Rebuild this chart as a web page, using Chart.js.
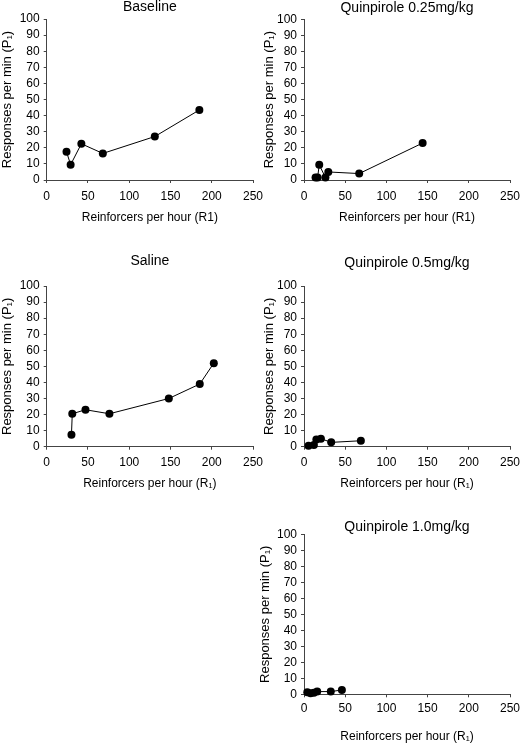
<!DOCTYPE html>
<html><head><meta charset="utf-8">
<script src="https://cdn.jsdelivr.net/npm/chart.js@4/dist/chart.umd.min.js"></script>
<style>
html,body{margin:0;padding:0;background:#fff;width:521px;height:745px;overflow:hidden;position:relative}
canvas{position:absolute;left:0;top:0}
</style></head><body>
<canvas id="c1" width="521" height="745"></canvas>
<canvas id="c2" width="521" height="745"></canvas>
<canvas id="c3" width="521" height="745"></canvas>
<canvas id="c4" width="521" height="745"></canvas>
<canvas id="c5" width="521" height="745"></canvas>
<script>
// ---- data ----
const xTickValues = [0, 50, 100, 150, 200, 250];
const yTickValues = [0, 10, 20, 30, 40, 50, 60, 70, 80, 90, 100];
const panelTitles = ['Baseline', 'Quinpirole 0.25mg/kg', 'Saline', 'Quinpirole 0.5mg/kg', 'Quinpirole 1.0mg/kg'];
const yAxisTitle = 'Responses per min (P\u2081)';
const xAxisTitles = ['Reinforcers per hour (R1)', 'Reinforcers per hour (R1)', 'Reinforcers per hour (R\u2081)', 'Reinforcers per hour (R\u2081)', 'Reinforcers per hour (R\u2081)'];

const baselineR = [24, 29, 42, 68, 131, 185];
const baselineP = [17.5, 9.5, 22.5, 16.5, 27, 43.5];

const q025R = [14, 16.5, 18.5, 26, 29.5, 67, 144];
const q025P = [1.5, 1.5, 9.5, 1.5, 5, 4, 23];

const salineR = [30, 31, 47, 76, 148, 185.5, 202.5];
const salineP = [7.5, 20.5, 23, 20.5, 30, 39, 52];

const q05R = [5.5, 12, 15, 20.5, 33, 69];
const q05P = [0.6, 1, 4.5, 5, 2.7, 3.7];

const q10R = [4, 8, 12, 16, 32.5, 46];
const q10P = [1.3, 0.6, 1, 1.7, 1.7, 2.7];

// ---- layout ----
const W = 521, H = 745;
const F = "'Liberation Sans', Arial, Helvetica, sans-serif";
const AX = '#444';
const geoms = [
  {left: 0, chartLeft: 46.7, chartRight: 253, titleTop: 0, chartTop: 19, chartBottom: 180, bottom: 230, xTitleCenter: 218, tickPad: 6},
  {left: 262, chartLeft: 304, chartRight: 510, titleTop: 1, chartTop: 19.3, chartBottom: 180, bottom: 230, xTitleCenter: 218, tickPad: 6},
  {left: 0, chartLeft: 46.7, chartRight: 253, titleTop: 254, chartTop: 286, chartBottom: 446.7, bottom: 497, xTitleCenter: 484, tickPad: 6},
  {left: 262, chartLeft: 304, chartRight: 510, titleTop: 256, chartTop: 286, chartBottom: 446.7, bottom: 497, xTitleCenter: 484, tickPad: 6},
  {left: 258.5, chartLeft: 304, chartRight: 510, titleTop: 520.3, chartTop: 534.3, chartBottom: 694.3, bottom: 745, xTitleCenter: 736.7, tickPad: 4}
];

function makeChart(id, title, xTitle, R, P, g) {
  const pts = R.map((r, k) => ({x: r, y: P[k]}));
  new Chart(document.getElementById(id), {
    type: 'scatter',
    data: {datasets: [{
      data: pts, showLine: true, borderColor: '#000', borderWidth: 1, tension: 0,
      pointRadius: 4, pointHoverRadius: 4, pointBackgroundColor: '#000',
      pointBorderColor: '#000', pointBorderWidth: 0, clip: false
    }]},
    options: {
      responsive: false, animation: false, devicePixelRatio: 1, events: [],
      layout: {padding: {left: g.left, top: g.titleTop, right: W - g.chartRight, bottom: H - g.bottom}},
      plugins: {
        legend: {display: false}, tooltip: {enabled: false},
        title: {display: true, text: title, color: '#000', fullSize: false,
          font: {family: F, size: 14, weight: 'normal', lineHeight: 1},
          padding: {top: 0, bottom: Math.max(0, g.chartTop - g.titleTop - 14)}}
      },
      scales: {
        x: {
          type: 'linear', min: 0, max: 250,
          afterBuildTicks: s => { s.ticks = xTickValues.map(v => ({value: v})); },
          afterFit: s => { s.height = g.bottom - g.chartBottom; s.paddingLeft = 0; s.paddingRight = 0; },
          grid: {display: true, drawOnChartArea: false, drawTicks: true, tickLength: 3, color: AX},
          border: {display: true, color: AX, width: 1},
          ticks: {color: '#000', font: {family: F, size: 12}, padding: g.tickPad, maxRotation: 0, autoSkip: false},
          title: {display: true, text: xTitle, color: '#000', font: {family: F, size: 12},
            padding: {top: 0, bottom: g.bottom - g.xTitleCenter - 7.2}}
        },
        y: {
          type: 'linear', min: 0, max: 100,
          afterBuildTicks: s => { s.ticks = yTickValues.map(v => ({value: v})); },
          afterFit: s => { s.width = g.chartLeft - g.left; s.paddingTop = 0; s.paddingBottom = 0; },
          grid: {display: true, drawOnChartArea: false, drawTicks: true, tickLength: 3, color: AX},
          border: {display: true, color: AX, width: 1},
          ticks: {color: '#000', font: {family: F, size: 12}, padding: 4, autoSkip: false},
          title: {display: true, text: yAxisTitle, color: '#000', font: {family: F, size: 13, lineHeight: 1.1},
            padding: {top: 0, bottom: 0}}
        }
      }
    }
  });
}

makeChart('c1', panelTitles[0], xAxisTitles[0], baselineR, baselineP, geoms[0]);
makeChart('c2', panelTitles[1], xAxisTitles[1], q025R, q025P, geoms[1]);
makeChart('c3', panelTitles[2], xAxisTitles[2], salineR, salineP, geoms[2]);
makeChart('c4', panelTitles[3], xAxisTitles[3], q05R, q05P, geoms[3]);
makeChart('c5', panelTitles[4], xAxisTitles[4], q10R, q10P, geoms[4]);
</script>
</body></html>
